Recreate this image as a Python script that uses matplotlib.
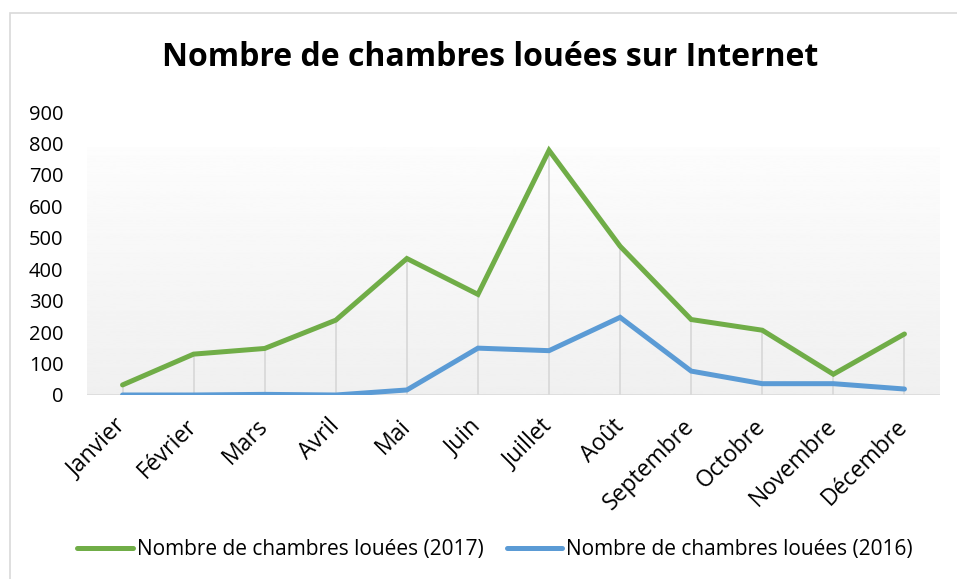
import numpy as np
import matplotlib
matplotlib.use("Agg")
from matplotlib import pyplot as plt
from matplotlib.patches import Rectangle

# Données
mois = ["Janvier", "Février", "Mars", "Avril", "Mai", "Juin", "Juillet",
        "Août", "Septembre", "Octobre", "Novembre", "Décembre"]
chambres_2017 = [32, 130, 148, 238, 434, 320, 778, 473, 240, 206, 66, 194]
chambres_2016 = [0, 0, 2, 0, 16, 149, 141, 247, 76, 36, 36, 19]
graduations = [0, 100, 200, 300, 400, 500, 600, 700, 800, 900]

plt.rcParams["font.family"] = ["Open Sans", "DejaVu Sans"]

vert = "#70ad47"
bleu = "#5b9bd5"
gris = "#d9d9d9"

fig = plt.figure(figsize=(9.57, 5.79), dpi=100)
ax = fig.add_axes([87 / 957, 1 - 395 / 579, (940 - 87) / 957, (395 - 112) / 579])

# cadre du graphique (coupé à droite et en bas)
fig.patches.append(Rectangle((10 / 957, -0.05), 1.2, 1 - 13 / 579 + 0.05,
                             transform=fig.transFigure, fill=False,
                             edgecolor="#d9d9d9", linewidth=1.2))

x = np.arange(len(mois))

# fond en dégradé de la zone de traçage
degrade = np.linspace(0.94, 0.99, 256).reshape(-1, 1)
ax.imshow(degrade, cmap="gray", vmin=0, vmax=1, aspect="auto",
          extent=[0, 1, 0, 0.873], transform=ax.transAxes, origin="lower",
          zorder=0)

# lignes de projection
haut = np.maximum(chambres_2017, chambres_2016)
ax.vlines(x, 0, haut, color=gris, linewidth=1.3, zorder=1)
ax.axhline(0, color=gris, linewidth=1.8, zorder=1)

ax.plot(x, chambres_2017, color=vert, linewidth=3.6, solid_capstyle="round",
        solid_joinstyle="miter", label="Nombre de chambres louées (2017)", zorder=3)
ax.plot(x, chambres_2016, color=bleu, linewidth=3.6, solid_capstyle="round",
        solid_joinstyle="miter", label="Nombre de chambres louées (2016)", zorder=3)

ax.set_xlim(-0.5, len(mois) - 0.5)
ax.set_ylim(0, 900)
ax.set_yticks(graduations)
ax.set_yticklabels([str(v) for v in graduations])
ax.set_xticks(x)
ax.set_xticklabels(mois, rotation=45, ha="right", va="center", rotation_mode="anchor")
ax.tick_params(axis="y", length=0, pad=17, labelsize=14.5, labelcolor="#000000")
ax.tick_params(axis="x", length=0, pad=20, labelsize=16.5, labelcolor="#000000")
for s in ax.spines.values():
    s.set_visible(False)

fig.text(490 / 957, 1 - 57 / 579, "Nombre de chambres louées sur Internet",
         ha="center", va="center", fontsize=23, fontweight="bold", color="#000000")

leg = fig.legend(loc="center", bbox_to_anchor=(495 / 957, 1 - 550 / 579), ncol=2,
                 frameon=False, handlelength=2.65, handletextpad=0.2,
                 columnspacing=1.1, prop={"size": 15})

fig.savefig("out.png", dpi=100, facecolor="white")
